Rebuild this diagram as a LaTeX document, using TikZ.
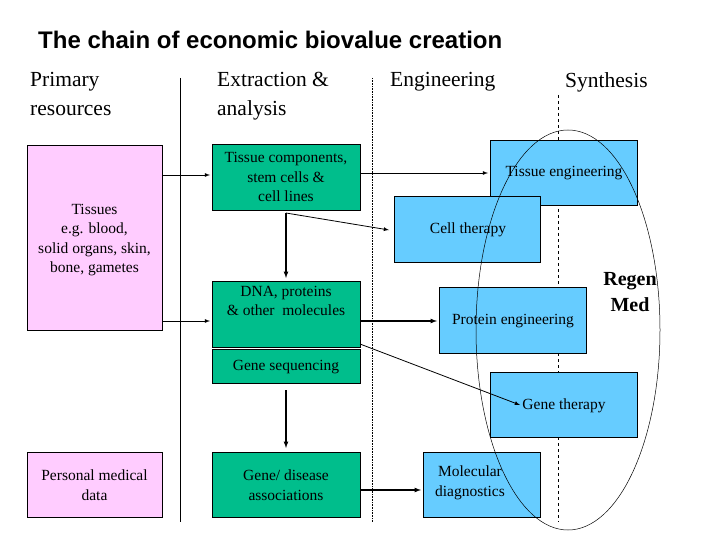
\documentclass[tikz,border=0pt]{standalone}
\usepackage{fontspec}
\setmainfont{Liberation Serif}
\newfontfamily\sansf{Liberation Sans}
\begin{document}
\begin{tikzpicture}[x=1pt,y=-1pt,
 txt/.style={align=center,font=\fontsize{15.5}{19.5}\selectfont,inner sep=0},
 hdr/.style={align=left,anchor=north west,font=\fontsize{21.5}{29}\selectfont,inner sep=0},
 arr/.style={-latex,line width=0.8pt},
 arrt/.style={-latex,line width=1.2pt}]
\useasboundingbox (0,0) rectangle (720,540);
\definecolor{gbox}{RGB}{0,190,140}
\definecolor{bbox}{RGB}{102,204,255}
\definecolor{pbox}{RGB}{255,204,255}
\node[anchor=west,font=\sansf\bfseries\fontsize{24}{28}\selectfont,inner sep=0] (title) at (38,40) {The chain of economic biovalue creation};
\node[hdr] (h1) at (30,72) {Primary\\resources};
\node[hdr] (h2) at (217,72) {Extraction \&\\analysis};
\node[hdr] (h3) at (390,72) {Engineering};
\node[hdr] (h4) at (565,72) {Synthesis};
\coordinate (v1a) at (180,78); \coordinate (v1b) at (180,522);
\coordinate (v2a) at (372,78); \coordinate (v2b) at (372,522);
\coordinate (v3a) at (558,95); \coordinate (v3b) at (558,522);
\draw[line width=0.6pt] (v1a)--(v1b);
\draw[densely dotted,line width=0.6pt] (v2a)--(v2b);
\draw[dashed,line width=0.6pt] (v3a)--(v3b);
% boxes
\path[draw,fill=pbox] (27,145) rectangle (162,330);
\node[txt] (tis) at (94.5,240) {Tissues\\e.g. blood,\\solid organs, skin,\\bone, gametes};
\path[draw,fill=pbox] (27,452) rectangle (162,517);
\node[txt] (pmd) at (94.5,485) {Personal medical\\data};
\path[draw,fill=gbox] (212,144) rectangle (360,210);
\node[txt] (tc) at (286,177) {Tissue components,\\stem cells \&\\cell lines};
\path[draw,fill=gbox] (212,281) rectangle (360,347);
\node[txt] (dna) at (286,301) {DNA, proteins\\\& other\ \ molecules};
\path[draw,fill=gbox] (212,349) rectangle (360,383);
\node[txt] (gs) at (286,367) {Gene sequencing};
\path[draw,fill=gbox] (212,452) rectangle (360,517);
\node[txt] (gd) at (286,485) {Gene/ disease\\associations};
\path[draw,fill=bbox] (490,140) rectangle (637,205);
\node[txt] (te) at (564,173) {Tissue engineering};
\path[draw,fill=bbox] (394,196) rectangle (540,262);
\node[txt] (ct) at (468,230) {Cell therapy};
\path[draw,fill=bbox] (439,287) rectangle (586,353);
\node[txt] (pe) at (513,321) {Protein engineering};
\path[draw,fill=bbox] (490,372) rectangle (637,437);
\node[txt] (gt) at (564,406) {Gene therapy};
\path[draw,fill=bbox] (423,452) rectangle (540,517);
\node[txt] (md) at (470,483) {Molecular\\diagnostics};
\draw[line width=0.5pt] (568,330) ellipse [x radius=92, y radius=200];
\node[txt,font=\bfseries\fontsize{20}{26}\selectfont] (rm) at (630,292) {Regen\\Med};
% arrows
\coordinate (t1) at (162,175); \coordinate (t1e) at (210,175);
\coordinate (t2) at (162,321); \coordinate (t2e) at (210,321);
\draw[arr] (t1)--(t1e);
\draw[arr] (t2)--(t2e);
\coordinate (c1) at (360,173); \coordinate (c1e) at (488,173);
\draw[arr] (c1)--(c1e);
\coordinate (d0) at (286,213); \coordinate (d1) at (286,278); \coordinate (d2) at (389,230);
\draw[arrt] (d0)--(d1);
\draw[arr] (d0)--(d2);
\coordinate (p0) at (360,321); \coordinate (p1) at (437,321);
\draw[arrt] (p0)--(p1);
\coordinate (g0) at (360,344); \coordinate (g1) at (520,405);
\draw[arr] (g0)--(g1);
\coordinate (s0) at (286,390); \coordinate (s1) at (286,448);
\draw[arrt] (s0)--(s1);
\coordinate (m0) at (360,490); \coordinate (m1) at (421,490);
\draw[arrt] (m0)--(m1);
\end{tikzpicture}
\end{document}
